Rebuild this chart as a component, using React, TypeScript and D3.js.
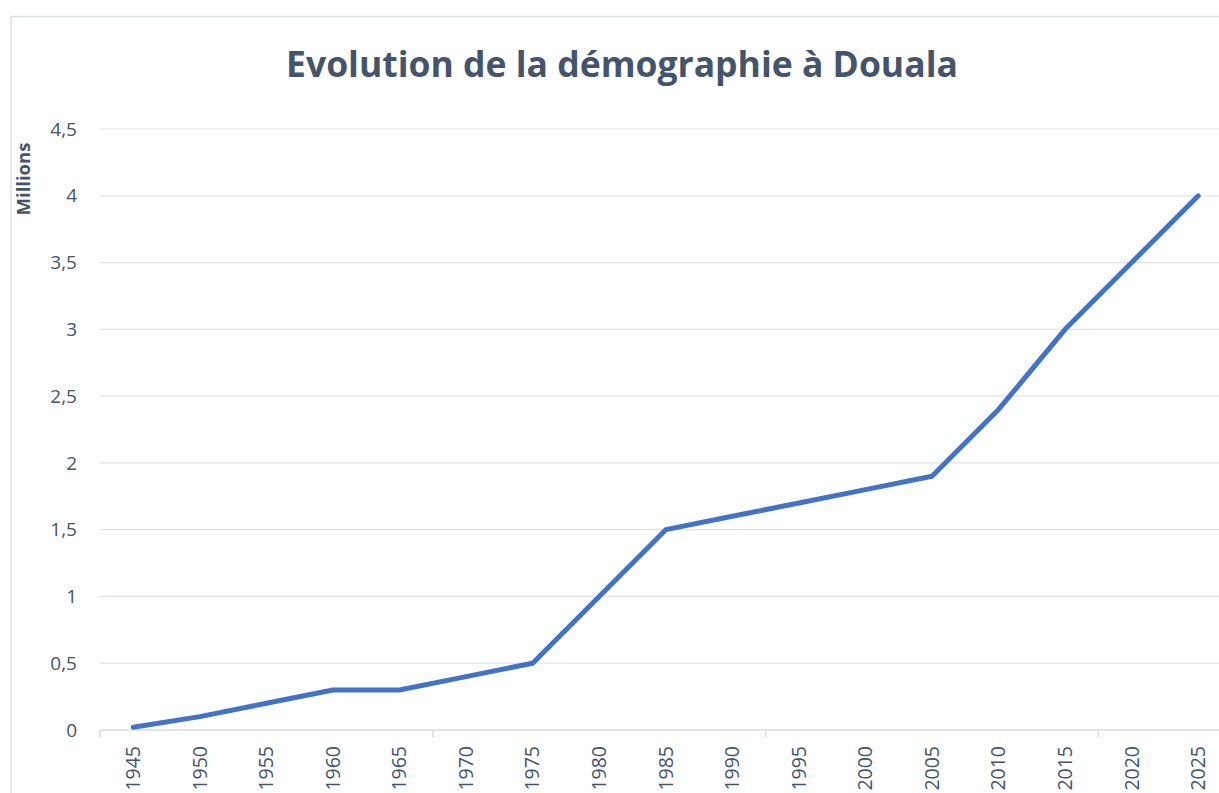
import React, { useRef, useEffect } from 'react';
import * as d3 from 'd3';

const years = [1945, 1950, 1955, 1960, 1965, 1970, 1975, 1980, 1985, 1990, 1995, 2000, 2005, 2010, 2015, 2020, 2025];
const population = [0.02, 0.1, 0.2, 0.3, 0.3, 0.4, 0.5, 1.0, 1.5, 1.6, 1.7, 1.8, 1.9, 2.4, 3.0, 3.5, 4.0];
const yTicks = [0, 0.5, 1, 1.5, 2, 2.5, 3, 3.5, 4, 4.5];

const width = 1219;
const height = 793;
const textColor = '#44546a';
const font = 'Open Sans, Noto Sans, sans-serif';

export default function App() {
    const svgRef = useRef<SVGSVGElement>(null);

    useEffect(() => {
        const svg = d3.select(svgRef.current);
        svg.selectAll('*').remove();

        const plotLeft = 100;
        const step = 66.56;
        const plotRight = plotLeft + step * years.length;

        // category axis (Excel style: points centred in bands)
        const x = d3.scaleBand<number>()
            .domain(years)
            .range([plotLeft, plotRight]);

        const y = d3.scaleLinear()
            .domain([0, 4.5])
            .range([730, 129]);

        // chart frame
        svg.append('rect')
            .attr('x', 11)
            .attr('y', 16.5)
            .attr('width', 1240)
            .attr('height', 800)
            .attr('fill', 'white')
            .attr('stroke', '#dde2ea')
            .attr('stroke-width', 1.5);

        // gridlines
        svg.append('g')
            .selectAll('line')
            .data(yTicks.filter(d => d > 0))
            .join('line')
            .attr('x1', plotLeft)
            .attr('x2', plotRight)
            .attr('y1', d => y(d))
            .attr('y2', d => y(d))
            .attr('stroke', '#e1e4ea')
            .attr('stroke-width', 1.2);

        // y labels
        svg.append('g')
            .selectAll('text')
            .data(yTicks)
            .join('text')
            .attr('x', 77)
            .attr('y', d => y(d))
            .attr('dy', '0.35em')
            .attr('text-anchor', 'end')
            .attr('font-family', font)
            .attr('font-size', 19)
            .attr('fill', textColor)
            .text(d => d3.format('')(d).replace('.', ','));

        // x axis line + ticks every 5 categories
        const xAxis = svg.append('g');
        xAxis.append('line')
            .attr('x1', plotLeft)
            .attr('x2', plotRight)
            .attr('y1', y(0))
            .attr('y2', y(0))
            .attr('stroke', '#d9dde5')
            .attr('stroke-width', 1.5);

        const tickYears = years.filter((_, i) => i % 5 === 0);
        xAxis.selectAll('line.tick')
            .data(tickYears)
            .join('line')
            .attr('class', 'tick')
            .attr('x1', d => x(d)!)
            .attr('x2', d => x(d)!)
            .attr('y1', y(0))
            .attr('y2', y(0) + 7)
            .attr('stroke', '#d9dde5')
            .attr('stroke-width', 1.5);

        xAxis.selectAll('text')
            .data(years)
            .join('text')
            .attr('transform', d => `translate(${x(d)! + x.bandwidth() / 2},746) rotate(-90)`)
            .attr('dy', '0.35em')
            .attr('text-anchor', 'end')
            .attr('font-family', font)
            .attr('font-size', 19.5)
            .attr('fill', textColor)
            .text(d => d);

        // series line
        const line = d3.line<number>()
            .x((_, i) => x(years[i])! + x.bandwidth() / 2)
            .y(d => y(d));

        svg.append('path')
            .datum(population)
            .attr('fill', 'none')
            .attr('stroke', '#4472c4')
            .attr('stroke-width', 5)
            .attr('stroke-linecap', 'round')
            .attr('stroke-linejoin', 'round')
            .attr('d', line);

        // title
        svg.append('text')
            .attr('x', 622)
            .attr('y', 77)
            .attr('text-anchor', 'middle')
            .attr('font-family', font)
            .attr('font-weight', 'bold')
            .attr('font-size', 35.5)
            .attr('fill', textColor)
            .text('Evolution de la démographie à Douala');

        // axis title
        svg.append('text')
            .attr('transform', 'translate(24,179) rotate(-90)')
            .attr('dy', '0.35em')
            .attr('text-anchor', 'middle')
            .attr('font-family', font)
            .attr('font-weight', 'bold')
            .attr('font-size', 18.5)
            .attr('fill', textColor)
            .text('Millions');
    }, []);

    return (
        <svg
            ref={svgRef}
            width={width}
            height={height}
            style={{ position: 'fixed', top: 0, left: 0, display: 'block', background: 'white' }}
        />
    );
}
